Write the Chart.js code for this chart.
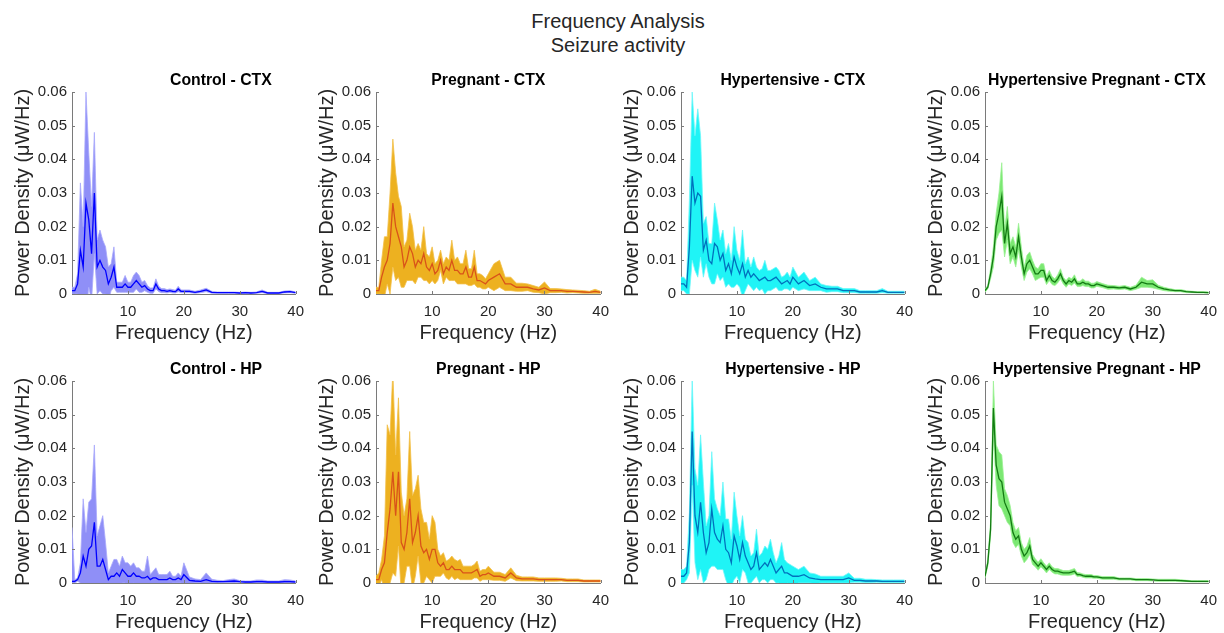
<!DOCTYPE html>
<html>
<head>
<meta charset="utf-8">
<title>Frequency Analysis - Seizure activity</title>
<script src="https://cdn.jsdelivr.net/npm/chart.js@4.4.1/dist/chart.umd.min.js"></script>
<style>
  html, body { margin: 0; padding: 0; background: #fff; }
  #fig { position: relative; width: 1224px; height: 633px; overflow: hidden;
         font-family: "Liberation Sans", Arial, sans-serif; }
  .suptitle { position: absolute; left: 0; width: 1236px; text-align: center;
              font-size: 20px; line-height: 24px; color: #262626; }
  #fig canvas { position: absolute; }
</style>
</head>
<body>
<div id="fig">
  <div class="suptitle" style="top:9px">Frequency Analysis</div>
  <div class="suptitle" style="top:33px">Seizure activity</div>
</div>

<script>
'use strict';

/* ── Data (power values are in units of 1e-3 µW/Hz) ── */

// frequency bins (Hz), shared by all eight panels
const freqHz = [
  0, 0.5, 1, 1.5, 2, 2.5, 3, 3.5, 4, 4.5,
  5, 5.5, 6, 6.5, 7, 7.5, 8, 8.5, 9, 9.5,
  10, 10.5, 11, 11.5, 12, 12.5, 13, 13.5, 14, 14.5,
  15, 15.5, 16, 16.5, 17, 17.5, 18, 18.5, 19, 19.5,
  20, 21, 22, 23, 24, 25, 26, 27, 28, 29,
  30, 31, 32, 33, 34, 35, 36, 37, 38, 39, 40
];

const panelTitles = [
  'Control - CTX', 'Pregnant - CTX', 'Hypertensive - CTX', 'Hypertensive Pregnant - CTX',
  'Control - HP', 'Pregnant - HP', 'Hypertensive - HP', 'Hypertensive Pregnant - HP'
];

const yTicks = [0, 0.01, 0.02, 0.03, 0.04, 0.05, 0.06];
const xTicks = [10, 20, 30, 40];

// Control - CTX
const ctxControlMean = [
  1, 1, 3, 13, 8, 27, 22, 12, 30, 8,
  10, 8, 7, 3, 5, 8, 2, 2, 2, 3,
  2, 2, 3, 4, 3, 2, 2.5, 1.5, 1, 1,
  3, 1.5, 1, 1, 0.8, 1, 0.8, 0.7, 1.5, 0.8,
  0.8, 0.8, 0.5, 0.8, 1.2, 0.5, 0.4, 0.4, 0.4, 0.4,
  0.3, 0.4, 0.3, 0.4, 0.8, 0.3, 0.3, 0.3, 0.6, 0.7, 0.4
];
const ctxControlErr = [
  1, 1, 3, 20, 12, 33, 20, 14, 18, 8,
  9, 8, 7, 5, 4, 6, 1.5, 1.5, 1.5, 2.5,
  1.5, 1.5, 2.5, 2.5, 2.5, 1.5, 1.5, 1, 0.8, 0.8,
  1.5, 0.8, 0.6, 0.6, 0.5, 0.5, 0.5, 0.4, 0.8, 0.4,
  0.4, 0.4, 0.3, 0.4, 0.5, 0.3, 0.2, 0.2, 0.2, 0.2,
  0.2, 0.2, 0.2, 0.2, 0.4, 0.2, 0.2, 0.2, 0.3, 0.3, 0.2
];

// Pregnant - CTX
const ctxPregMean = [
  1, 1, 5, 8, 10, 15, 27, 20, 17, 14,
  8, 10, 14, 12, 8, 10, 9, 12, 8, 7,
  9, 6, 7, 10, 6, 8, 7, 10, 7, 7,
  6, 6, 8, 5, 5, 8, 4, 4, 3.5, 3,
  4, 5, 6, 3, 3, 2, 2, 2, 1.5, 1.2,
  1.8, 1, 1, 1, 0.8, 0.8, 0.7, 0.6, 0.5, 0.8, 0.5
];
const ctxPregErr = [
  1, 1, 5, 9, 7, 15, 19, 16, 12, 12,
  6, 6, 10, 8, 5, 5, 4, 8, 4, 4,
  5, 3, 3, 3, 3, 3, 3, 6, 3, 4,
  3, 3, 5, 2.5, 2.5, 5, 2, 2, 2, 1.5,
  2, 4, 4, 2, 2, 1.2, 1.2, 1, 1, 0.8,
  1.8, 0.6, 0.6, 0.5, 0.5, 0.4, 0.4, 0.4, 0.3, 0.6, 0.3
];

// Hypertensive - CTX
const ctxHypMean = [
  3, 3, 2, 14, 35, 27, 30, 29, 13, 16,
  10, 9, 15, 14, 10, 12, 7, 9, 6, 11,
  8, 6, 9, 5, 7, 5, 6, 5, 4, 4.5,
  5, 4, 4, 4.5, 5, 4, 3, 3.5, 4, 3,
  5, 3, 4, 2.5, 3, 2, 1.5, 1.5, 1.5, 1,
  1, 1, 0.6, 0.6, 0.6, 0.6, 1, 0.5, 0.5, 0.5, 0.5
];
const ctxHypErr = [
  2, 2, 2, 14, 25, 20, 25, 18, 8, 7,
  5, 6, 12, 8, 6, 7, 5, 6, 4, 9,
  5, 4, 10, 4, 4, 3, 5, 3, 3, 3,
  5, 3, 3, 3, 3, 3, 2, 2, 2.5, 2,
  3, 2, 2.5, 1.5, 2, 1, 1, 0.8, 0.8, 0.6,
  0.6, 0.6, 0.4, 0.4, 0.4, 0.4, 0.6, 0.3, 0.3, 0.3, 0.3
];

// Hypertensive Pregnant - CTX
const ctxHypPregMean = [
  1, 2, 6, 11, 20, 24, 29, 15, 21, 12,
  14, 11, 17, 11, 6, 9, 10, 8, 6, 6,
  7, 7, 4, 5.5, 4, 3.5, 4.5, 6, 4, 3,
  4, 3.5, 4.5, 3, 3, 3.5, 3, 3, 2.5, 2.5,
  3, 2.5, 2, 2, 1.8, 2, 1.5, 2, 3.5, 3,
  3, 2, 1.5, 1.2, 1, 1, 0.7, 0.6, 0.5, 0.5, 0.4
];
const ctxHypPregErr = [
  0.5, 0.5, 1.5, 3, 4, 6, 10, 4, 5, 3,
  3, 3, 4, 3, 2, 2.5, 2.5, 2, 2, 1.5,
  2, 2, 1.2, 1.5, 1.2, 1, 1.2, 1.5, 1, 1,
  1, 1, 1.2, 0.8, 0.8, 1, 0.8, 0.8, 0.7, 0.7,
  0.7, 0.6, 0.6, 0.5, 0.5, 0.5, 0.5, 0.6, 1.5, 1,
  1.2, 0.6, 0.5, 0.4, 0.3, 0.3, 0.3, 0.2, 0.2, 0.2, 0.2
];

// Control - HP
const hpControlMean = [
  0.5, 0.5, 1, 3, 8, 5, 10, 11, 18, 5,
  5, 7, 4, 1, 2, 2, 3, 2, 4, 3,
  2, 2, 3, 2, 2, 1.5, 1.5, 2, 1, 1.5,
  1.5, 1, 1, 1, 1, 1.5, 1, 1, 1.5, 1,
  2.5, 0.8, 0.6, 0.5, 1, 0.5, 0.4, 0.4, 0.5, 0.6,
  0.4, 0.3, 0.3, 0.4, 0.4, 0.3, 0.3, 0.3, 0.4, 0.4, 0.3
];
const hpControlErr = [
  16, 0.5, 0.5, 3, 17, 10, 14, 14, 23, 9,
  12, 13, 8, 2, 3, 5, 4, 3, 4, 3,
  4, 3, 3, 2.5, 2.5, 2, 2, 6, 1.5, 2,
  3, 1.5, 1.5, 1.5, 1.5, 2, 1, 1, 1.5, 1,
  3.5, 1, 0.6, 0.5, 2, 0.6, 0.4, 0.3, 0.5, 0.6,
  0.3, 0.3, 0.3, 0.5, 0.5, 0.3, 0.3, 0.3, 0.6, 0.5, 0.3
];

// Pregnant - HP
const hpPregMean = [
  1, 1, 4, 6, 15, 22, 33, 20, 33, 12,
  10, 15, 25, 12, 15, 20, 11, 9, 10, 7,
  10, 10, 6, 5, 6, 4, 4, 5, 4, 4,
  4, 3, 3, 3, 3, 3.5, 4, 2, 2.5, 2.5,
  3, 2, 2, 1.5, 3, 1.5, 1.2, 1.2, 1.2, 1,
  1, 1, 1, 1, 0.8, 0.8, 0.8, 0.6, 0.6, 0.6, 0.6
];
const hpPregErr = [
  1, 2, 3, 8, 32, 22, 30, 18, 22, 15,
  10, 10, 20, 14, 13, 12, 11, 9, 8, 6,
  10, 8, 4, 3, 3, 2.5, 3, 3, 3, 2.5,
  3, 2, 2, 2, 2, 2, 2.5, 1.5, 1.5, 1.5,
  2, 1.2, 1.2, 1, 1.5, 0.8, 0.6, 0.6, 0.6, 0.5,
  0.5, 0.5, 0.5, 0.4, 0.4, 0.4, 0.4, 0.3, 0.3, 0.3, 0.3
];

// Hypertensive - HP
const hpHypMean = [
  2, 2, 3, 12, 45, 20, 15, 24, 15, 9,
  12, 22, 15, 13, 12, 17, 10, 9, 6, 14,
  11, 7, 12, 8, 6, 4, 5, 9, 4, 5,
  6, 5, 7, 5, 3, 4, 5, 3, 3, 2.5,
  2, 2, 2.5, 1.5, 1.2, 1, 1, 1, 1, 1,
  1.5, 0.8, 0.8, 0.6, 0.6, 0.6, 0.5, 0.5, 0.5, 0.5, 0.5
];
const hpHypErr = [
  2, 2, 2, 9, 16, 14, 14, 20, 15, 8,
  8, 17, 10, 9, 8, 13, 9, 10, 7, 13,
  9, 7, 8, 5, 6, 4, 4, 7, 4, 4,
  5, 5, 6, 4, 3, 4, 7, 4, 3, 3,
  3, 2, 2.5, 1.5, 1.5, 1, 1, 1, 1, 1,
  1.5, 0.6, 0.6, 0.5, 0.5, 0.4, 0.4, 0.4, 0.4, 0.4, 0.4
];

// Hypertensive Pregnant - HP
const hpHypPregMean = [
  2, 6, 16, 52, 35, 31, 30, 24, 22, 20,
  15, 13, 14, 10, 8, 9, 11, 7, 6, 5,
  6, 5, 4, 5, 4, 3.5, 3.5, 3.2, 3, 3,
  3, 3.2, 3.5, 2.5, 2.5, 2.2, 2, 2, 2, 1.8,
  1.8, 1.5, 1.5, 1.5, 1.2, 1.2, 1.2, 1, 1, 1,
  0.9, 0.8, 0.8, 0.8, 0.8, 0.7, 0.6, 0.5, 0.5, 0.5, 0.5
];
const hpHypPregErr = [
  0.5, 1, 2, 8, 6, 8, 8, 4, 4, 3,
  3, 2.5, 2.5, 2, 2, 2, 2.5, 1.5, 1.2, 1.2,
  1.2, 1, 1, 1, 0.8, 0.8, 0.8, 0.8, 0.7, 0.7,
  0.7, 0.8, 0.8, 0.6, 0.5, 0.5, 0.5, 0.5, 0.5, 0.4,
  0.4, 0.4, 0.4, 0.4, 0.3, 0.3, 0.3, 0.3, 0.3, 0.3,
  0.3, 0.3, 0.3, 0.3, 0.3, 0.3, 0.2, 0.2, 0.2, 0.2, 0.2
];

const panelMeans = [ctxControlMean, ctxPregMean, ctxHypMean, ctxHypPregMean,
                    hpControlMean, hpPregMean, hpHypMean, hpHypPregMean];
const panelErrs  = [ctxControlErr, ctxPregErr, ctxHypErr, ctxHypPregErr,
                    hpControlErr, hpPregErr, hpHypErr, hpHypPregErr];

/* ── Styling / layout ─────────────────────────────────────── */
const UNIT = 1e-3;
const FONT = '"Liberation Sans", Arial, sans-serif';
const bandColors = ['#8f8ff7', '#edb120', '#1ff4f6', '#7be872'];
const bandEdges  = ['#a9a9fb', '#f2c04a', '#6ff8fa', '#9cf194'];
const lineColors = ['#0000ff', '#d95319', '#0072bd', '#137a13'];

const colLeft  = [72, 376, 681, 985];
const colRight = [303, 608, 912, 1216];
const rowTop    = [92, 381];
const rowBottom = [294, 583];
const PAD_TOP = 40, PAD_RIGHT = 10, Y_AXIS_W = 72, X_AXIS_H = 52;

/* bold panel title above the plot box (first column is left-aligned in the figure) */
const panelTitle = {
    id: 'panelTitle',
    afterDraw: function (chart, args, opts) {
        var ctx = chart.ctx, a = chart.chartArea;
        ctx.save();
        ctx.font = 'bold 15.8px ' + FONT;
        ctx.fillStyle = '#000';
        ctx.textBaseline = 'middle';
        if (opts.left != null) {
            ctx.textAlign = 'left';
            ctx.fillText(opts.text, a.left + opts.left, a.top - 11.5);
        } else {
            ctx.textAlign = 'center';
            ctx.fillText(opts.text, (a.left + a.right) / 2, a.top - 11.5);
        }
        ctx.restore();
    }
};

/* small inward tick marks, MATLAB style */
const inwardTicks = {
    id: 'inwardTicks',
    afterDraw: function (chart) {
        var ctx = chart.ctx, a = chart.chartArea;
        var xs = chart.scales.x, ys = chart.scales.y;
        ctx.save();
        ctx.strokeStyle = '#7a7a7a';
        ctx.lineWidth = 1;
        ctx.beginPath();
        yTicks.forEach(function (v) {
            var py = Math.round(ys.getPixelForValue(v)) + 0.5;
            ctx.moveTo(a.left, py); ctx.lineTo(a.left + 3, py);
        });
        xTicks.forEach(function (v) {
            var px = Math.round(xs.getPixelForValue(v)) + 0.5;
            ctx.moveTo(px, a.bottom); ctx.lineTo(px, a.bottom - 3);
        });
        ctx.stroke();
        ctx.restore();
    }
};

function series(mean, err, sign) {
    return freqHz.map(function (f, i) {
        return { x: f, y: (mean[i] + sign * err[i]) * UNIT };
    });
}

function makePanel(p) {
    var row = Math.floor(p / 4), col = p % 4;
    var L = colLeft[col], R = colRight[col], T = rowTop[row], B = rowBottom[row];

    var canvas = document.createElement('canvas');
    canvas.width = (R - L) + Y_AXIS_W + PAD_RIGHT;
    canvas.height = PAD_TOP + (B - T) + X_AXIS_H;
    canvas.style.left = (L - Y_AXIS_W) + 'px';
    canvas.style.top = (T - PAD_TOP) + 'px';
    document.getElementById('fig').appendChild(canvas);

    var mean = panelMeans[p], err = panelErrs[p];

    new Chart(canvas.getContext('2d'), {
        type: 'line',
        data: {
            datasets: [{
                label: 'mean',
                data: series(mean, err, 0),
                borderColor: lineColors[col],
                borderWidth: 1.3,
                pointRadius: 0,
                tension: 0,
                fill: false,
                order: 0,
            }, {
                label: 'upper',
                data: series(mean, err, 1),
                borderColor: bandEdges[col],
                borderWidth: 0.8,
                pointRadius: 0,
                tension: 0,
                fill: false,
                order: 1,
            }, {
                label: 'lower',
                data: series(mean, err, -1),
                borderColor: bandEdges[col],
                backgroundColor: bandColors[col],
                borderWidth: 0.8,
                pointRadius: 0,
                tension: 0,
                fill: '-1',
                order: 1,
            }],
        },
        options: {
            responsive: false,
            animation: false,
            devicePixelRatio: 1,
            events: [],
            layout: { padding: { top: PAD_TOP, right: PAD_RIGHT, left: 0, bottom: 0 } },
            plugins: {
                legend: { display: false },
                tooltip: { enabled: false },
                panelTitle: { text: panelTitles[p], left: col === 0 ? 98 : null },
            },
            scales: {
                x: {
                    type: 'linear',
                    min: 0, max: 40,
                    afterBuildTicks: function (s) { s.ticks = xTicks.map(function (v) { return { value: v }; }); },
                    afterFit: function (s) { s.height = X_AXIS_H; },
                    grid: { display: true, drawOnChartArea: false, drawTicks: false },
                    border: { color: '#7a7a7a', width: 1 },
                    ticks: {
                        autoSkip: false, maxRotation: 0, padding: 9,
                        color: '#262626', font: { family: FONT, size: 15 },
                    },
                    title: {
                        display: true, text: 'Frequency (Hz)', color: '#262626',
                        font: { family: FONT, size: 20 }, padding: { top: 0, bottom: 1 },
                    },
                },
                y: {
                    min: 0, max: 0.06,
                    afterBuildTicks: function (s) { s.ticks = yTicks.map(function (v) { return { value: v }; }); },
                    afterFit: function (s) { s.width = Y_AXIS_W; },
                    grid: { display: true, drawOnChartArea: false, drawTicks: false },
                    border: { color: '#7a7a7a', width: 1 },
                    ticks: {
                        padding: 5, color: '#262626', font: { family: FONT, size: 15 },
                        callback: function (v) { return v === 0 ? '0' : v.toFixed(2); },
                    },
                    title: {
                        display: true, text: 'Power Density (μW/Hz)', color: '#262626',
                        font: { family: FONT, size: 20 }, padding: { top: 11, bottom: 0 },
                    },
                },
            },
        },
        plugins: [panelTitle, inwardTicks],
    });
}

document.addEventListener('DOMContentLoaded', function () {
    if (typeof window.Chart === 'undefined') return;
    for (var p = 0; p < 8; p++) makePanel(p);
});
</script>
</body>
</html>
